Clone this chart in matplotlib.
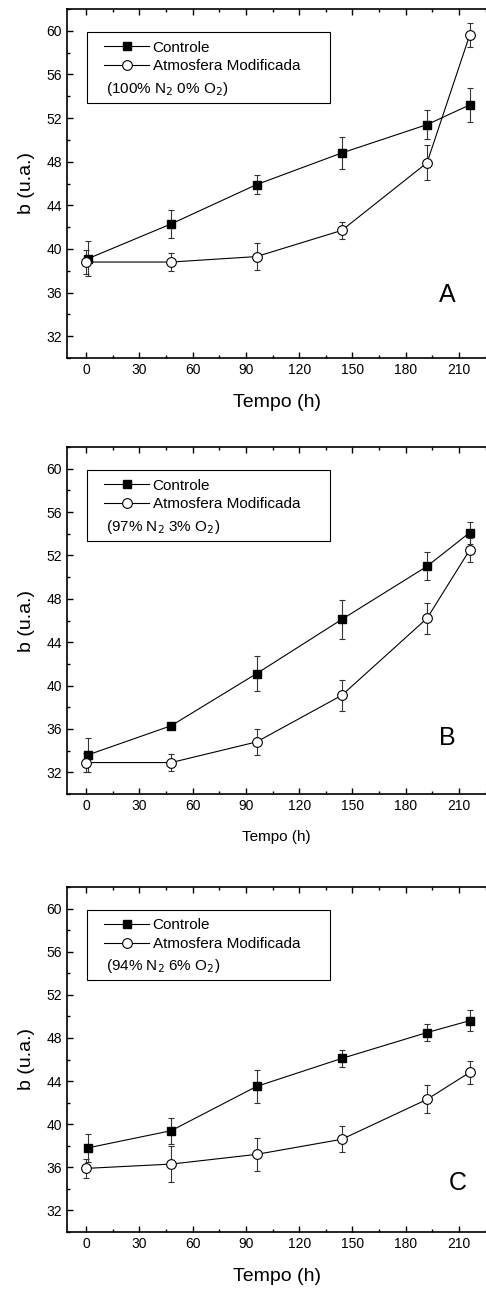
import matplotlib
matplotlib.use("Agg")
import matplotlib.pyplot as plt
from matplotlib.lines import Line2D
from matplotlib.patches import Rectangle
from matplotlib.ticker import MultipleLocator

plt.rcParams["font.family"] = ["Liberation Sans", "DejaVu Sans"]

time_ctrl = [1, 48, 96, 144, 192, 216]
time_mod = [0, 48, 96, 144, 192, 216]

# panel A: 100% N2 0% O2
ctrl_a = [39.1, 42.3, 45.9, 48.8, 51.4, 53.2]
ctrl_a_err = [1.6, 1.3, 0.9, 1.5, 1.3, 1.6]
mod_a = [38.8, 38.8, 39.3, 41.7, 47.9, 59.6]
mod_a_err = [1.1, 0.8, 1.2, 0.8, 1.6, 1.1]

# panel B: 97% N2 3% O2
ctrl_b = [33.6, 36.3, 41.1, 46.1, 51.0, 54.1]
ctrl_b_err = [1.6, 0.3, 1.6, 1.8, 1.3, 1.0]
mod_b = [32.9, 32.9, 34.8, 39.1, 46.2, 52.5]
mod_b_err = [0.9, 0.8, 1.2, 1.4, 1.4, 1.1]

# panel C: 94% N2 6% O2
ctrl_c = [37.8, 39.4, 43.5, 46.1, 48.5, 49.6]
ctrl_c_err = [1.3, 1.2, 1.5, 0.8, 0.8, 1.0]
mod_c = [35.9, 36.3, 37.2, 38.6, 42.3, 44.8]
mod_c_err = [0.9, 1.7, 1.5, 1.2, 1.3, 1.1]

notes = ["(100% N$_2$ 0% O$_2$)", "(97% N$_2$ 3% O$_2$)", "(94% N$_2$ 6% O$_2$)"]
letters = ["A", "B", "C"]
xticks = [0, 30, 60, 90, 120, 150, 180, 210]
yticks = [32, 36, 40, 44, 48, 52, 56, 60]


def plot_panel(ax, ctrl, ctrl_err, mod, mod_err, note, letter, xlabel_size, letter_pos):
    ax.errorbar(time_ctrl, ctrl, yerr=ctrl_err, color="black", lw=0.8,
                marker="s", ms=6, mfc="black", mec="black",
                ecolor="#333333", elinewidth=0.8, capsize=2.5, capthick=0.8, zorder=3)
    ax.errorbar(time_mod, mod, yerr=mod_err, color="black", lw=0.8,
                marker="o", ms=7, mfc="white", mec="black", mew=0.8,
                ecolor="#333333", elinewidth=0.8, capsize=2.5, capthick=0.8, zorder=3)

    ax.set_xlim(-10.7, 225.2)
    ax.set_ylim(30, 62)
    ax.set_xticks(xticks)
    ax.set_yticks(yticks)
    ax.xaxis.set_minor_locator(MultipleLocator(15))
    ax.yaxis.set_minor_locator(MultipleLocator(2))
    ax.tick_params(which="both", direction="in", top=True, right=False,
                   labelsize=10, width=1.0)
    ax.tick_params(which="major", length=4)
    ax.tick_params(which="minor", length=2.5)
    for side in ["left", "bottom", "top"]:
        ax.spines[side].set_linewidth(1.2)
    ax.spines["right"].set_visible(False)

    ax.set_xlabel("Tempo (h)", fontsize=xlabel_size, labelpad=12)
    ax.set_ylabel("b (u.a.)", fontsize=14, labelpad=8)

    # legend box
    ax.add_patch(Rectangle((0.048, 0.73), 0.58, 0.203, transform=ax.transAxes,
                           fill=False, edgecolor="black", lw=0.8, zorder=4))
    handles = [
        Line2D([], [], color="black", lw=0.8, marker="s", ms=6, mfc="black"),
        Line2D([], [], color="black", lw=0.8, marker="o", ms=7, mfc="white", mew=0.8),
    ]
    ax.legend(handles, ["Controle", "Atmosfera Modificada"], loc="upper left",
              bbox_to_anchor=(0.082, 0.918), frameon=False, fontsize=11,
              handlelength=2.9, handletextpad=0.25, labelspacing=0.3,
              borderpad=0.2, borderaxespad=0, numpoints=1)
    ax.text(0.093, 0.77, note, transform=ax.transAxes, fontsize=11,
            ha="left", va="center")
    ax.text(letter_pos[0], letter_pos[1], letter, transform=ax.transAxes,
            fontsize=18, ha="center", va="center")


fig = plt.figure(figsize=(4.86, 12.92), dpi=100)
left = 67 / 486
ax_a = fig.add_axes([left, 1 - 358 / 1292, 1.0 - left, 349 / 1292])
ax_b = fig.add_axes([left, 1 - 794 / 1292, 1.0 - left, 347 / 1292])
ax_c = fig.add_axes([left, 1 - 1232 / 1292, 1.0 - left, 345 / 1292])

plot_panel(ax_a, ctrl_a, ctrl_a_err, mod_a, mod_a_err, notes[0], letters[0], 14, (0.907, 0.18))
plot_panel(ax_b, ctrl_b, ctrl_b_err, mod_b, mod_b_err, notes[1], letters[1], 11, (0.907, 0.161))
plot_panel(ax_c, ctrl_c, ctrl_c_err, mod_c, mod_c_err, notes[2], letters[2], 14, (0.933, 0.142))

fig.savefig("out.png", dpi=100)
